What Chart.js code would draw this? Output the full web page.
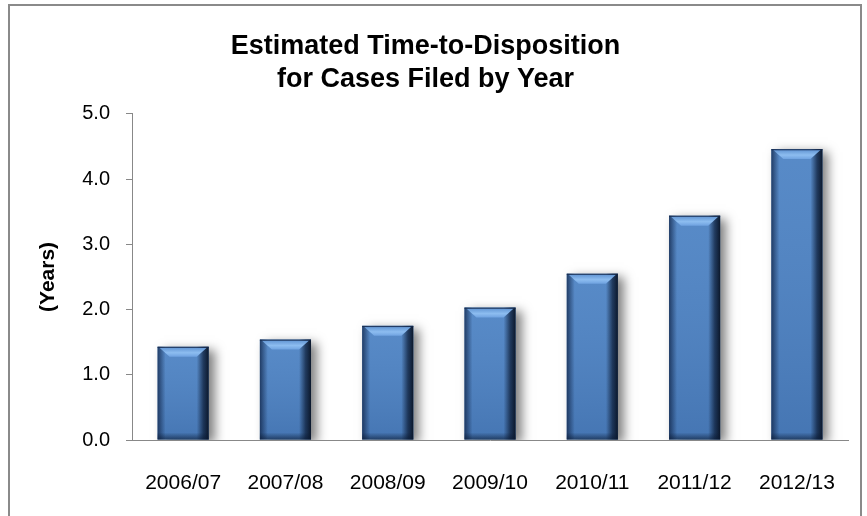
<!DOCTYPE html>
<html>
<head>
<meta charset="utf-8">
<script src="https://cdn.jsdelivr.net/npm/chart.js@4/dist/chart.umd.min.js"></script>
<style>
  html, body { margin: 0; padding: 0; background: #fff; }
  #wrap { position: relative; width: 867px; height: 516px; overflow: hidden; }
  #frame { position: absolute; left: 8px; top: 4px; width: 854px; height: 540px; border: 2px solid #8a8a8a; box-sizing: border-box; pointer-events: none; }
  canvas { position: absolute; left: 0; top: 0; }
</style>
</head>
<body>
<div id="wrap">
  <canvas id="c" width="867" height="516"></canvas>
  <div id="frame"></div>
</div>
<script>
const categories = ["2006/07", "2007/08", "2008/09", "2009/10", "2010/11", "2011/12", "2012/13"];
const years = [1.43, 1.54, 1.75, 2.03, 2.55, 3.44, 4.46];
const yTicks = [0, 1, 2, 3, 4, 5];
const titleLines = ["Estimated Time-to-Disposition", "for Cases Filed by Year"];
const yTitle = "(Years)";

const bevelPlugin = {
  id: 'bevel',
  beforeDatasetDraw(chart) {
    const ctx = chart.ctx;
    ctx.save();
    ctx.shadowColor = 'rgba(0,0,0,0.5)';
    ctx.shadowBlur = 10;
    ctx.shadowOffsetX = 6;
    ctx.shadowOffsetY = 3;
  },
  afterDatasetDraw(chart) {
    const ctx = chart.ctx;
    ctx.restore();
    const meta = chart.getDatasetMeta(0);
    meta.data.forEach(bar => {
      const p = bar.getProps(['x', 'y', 'base', 'width'], true);
      const l = p.x - p.width / 2, r = p.x + p.width / 2, t = p.y, b = p.base;
      const w = p.width;
      ctx.save();
      let g = ctx.createLinearGradient(0, t, 0, b);
      g.addColorStop(0, 'rgba(255,255,255,0.06)');
      g.addColorStop(1, 'rgba(0,0,30,0.10)');
      ctx.fillStyle = g; ctx.fillRect(l, t, w, b - t);
      g = ctx.createLinearGradient(l, 0, l + 8, 0);
      g.addColorStop(0, 'rgba(15,35,70,0.75)');
      g.addColorStop(1, 'rgba(15,35,70,0)');
      ctx.fillStyle = g; ctx.fillRect(l, t, 8, b - t);
      g = ctx.createLinearGradient(r - 12, 0, r, 0);
      g.addColorStop(0, 'rgba(10,25,50,0)');
      g.addColorStop(0.55, 'rgba(10,25,50,0.7)');
      g.addColorStop(1, 'rgba(8,18,35,0.95)');
      ctx.fillStyle = g; ctx.fillRect(r - 12, t, 12, b - t);
      g = ctx.createLinearGradient(0, b - 7, 0, b);
      g.addColorStop(0, 'rgba(10,25,50,0)');
      g.addColorStop(1, 'rgba(10,25,50,0.6)');
      ctx.fillStyle = g; ctx.fillRect(l, b - 7, w, 7);
      const bh = 10;
      ctx.beginPath();
      ctx.moveTo(l + 2, t + 1);
      ctx.lineTo(r - 2, t + 1);
      ctx.lineTo(r - 12, t + bh);
      ctx.lineTo(l + 12, t + bh);
      ctx.closePath();
      g = ctx.createLinearGradient(0, t, 0, t + bh);
      g.addColorStop(0, '#5b8fcf');
      g.addColorStop(0.6, '#8dbdf0');
      g.addColorStop(1, '#6fa2e0');
      ctx.fillStyle = g; ctx.fill();
      ctx.fillStyle = 'rgba(20,40,75,0.8)';
      ctx.fillRect(l, t, w, 1.2);
      ctx.restore();
    });
  }
};

new Chart(document.getElementById('c'), {
  type: 'bar',
  data: {
    labels: categories,
    datasets: [{
      data: years,
      backgroundColor: '#4d83c4',
      borderWidth: 0,
      barPercentage: 0.5,
      categoryPercentage: 1.0
    }]
  },
  options: {
    responsive: false,
    animation: false,
    devicePixelRatio: 1,
    layout: { padding: { top: 4, right: 16, left: 0, bottom: 0 } },
    plugins: {
      legend: { display: false },
      tooltip: { enabled: false },
      title: {
        display: true,
        text: titleLines,
        color: '#000',
        font: { family: 'Liberation Sans, Arial, sans-serif', size: 27, weight: 'bold', lineHeight: 1.22 },
        padding: { top: 26, bottom: 18 }
      }
    },
    scales: {
      x: {
        grid: { display: false, drawTicks: false },
        border: { display: true, color: '#888888', width: 1 },
        ticks: {
          color: '#000',
          font: { family: 'Liberation Sans, Arial, sans-serif', size: 21 },
          padding: 31,
          maxRotation: 0
        },
        afterFit(scale) { scale.height = 76; }
      },
      y: {
        min: 0, max: 5,
        afterBuildTicks(scale) { scale.ticks = yTicks.map(v => ({ value: v })); },
        grid: { drawOnChartArea: false, drawTicks: true, tickLength: 6, color: '#888888' },
        border: { display: true, color: '#888888', width: 1 },
        ticks: {
          color: '#000',
          font: { family: 'Liberation Sans, Arial, sans-serif', size: 20 },
          padding: 16,
          callback: v => Number(v).toFixed(1)
        },
        title: {
          display: true,
          text: yTitle,
          color: '#000',
          font: { family: 'Liberation Sans, Arial, sans-serif', size: 21, weight: 'bold' },
          padding: { top: 36, bottom: 0 }
        },
        afterFit(scale) { scale.width = 132; }
      }
    }
  },
  plugins: [bevelPlugin]
});
</script>
</body>
</html>
